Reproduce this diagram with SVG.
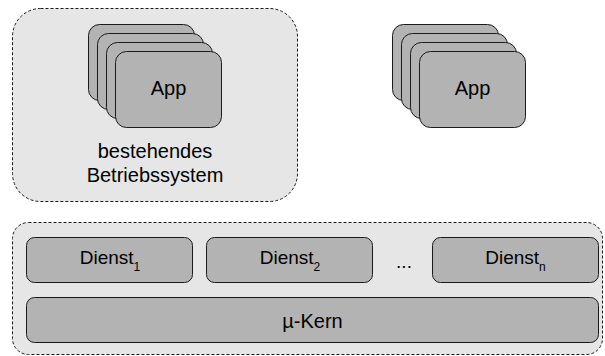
<svg xmlns="http://www.w3.org/2000/svg" width="605" height="356" viewBox="0 0 605 356">
<style>
.cont{fill:#e6e6e6;stroke:#1a1a1a;stroke-width:1;stroke-dasharray:3,2}
.box{fill:#b3b3b3;stroke:#1a1a1a;stroke-width:1}
.t{font-family:"Liberation Sans",Arial,sans-serif;fill:#000;text-anchor:middle}
</style>
<rect width="605" height="356" fill="#ffffff"/>
<g id="os">
<rect class="cont" x="12.5" y="8.5" width="285" height="193" rx="28"/>
<text class="t" x="155" y="158" font-size="20">bestehendes</text>
<text class="t" x="155" y="182" font-size="20">Betriebssystem</text>
</g>
<g id="apps-left">
<rect class="box" x="88.5" y="24.5" width="106" height="76" rx="11"/>
<rect class="box" x="97.5" y="33.5" width="106" height="76" rx="11"/>
<rect class="box" x="106.5" y="42.5" width="106" height="76" rx="11"/>
<rect class="box" x="115.5" y="51.5" width="106" height="76" rx="11"/>
<text class="t" x="168.5" y="95" font-size="20">App</text>
</g>
<g id="apps-right">
<rect class="box" x="392.5" y="24.5" width="106" height="76" rx="11"/>
<rect class="box" x="401.5" y="33.5" width="106" height="76" rx="11"/>
<rect class="box" x="410.5" y="42.5" width="106" height="76" rx="11"/>
<rect class="box" x="419.5" y="51.5" width="106" height="76" rx="11"/>
<text class="t" x="472.5" y="95" font-size="20">App</text>
</g>
<g id="system">
<rect class="cont" x="12.5" y="222.5" width="590" height="132" rx="16"/>
</g>
<g id="dienst1">
<rect class="box" x="26.5" y="237.5" width="166" height="45" rx="8"/>
<text class="t" x="110" y="264" font-size="19">Dienst<tspan font-size="12" dy="7">1</tspan></text>
</g>
<g id="dienst2">
<rect class="box" x="206.5" y="237.5" width="166" height="45" rx="8"/>
<text class="t" x="290" y="264" font-size="19">Dienst<tspan font-size="12" dy="7">2</tspan></text>
</g>
<g id="dots">
<text class="t" x="404" y="268" font-size="19">...</text>
</g>
<g id="dienstn">
<rect class="box" x="432.5" y="237.5" width="166" height="45" rx="8"/>
<text class="t" x="515.5" y="264" font-size="19">Dienst<tspan font-size="12" dy="7">n</tspan></text>
</g>
<g id="kern">
<rect class="box" x="26.5" y="297.5" width="572" height="45" rx="8"/>
<text class="t" x="312.5" y="328" font-size="20">µ-Kern</text>
</g>
<g id="connectors"></g>
</svg>
